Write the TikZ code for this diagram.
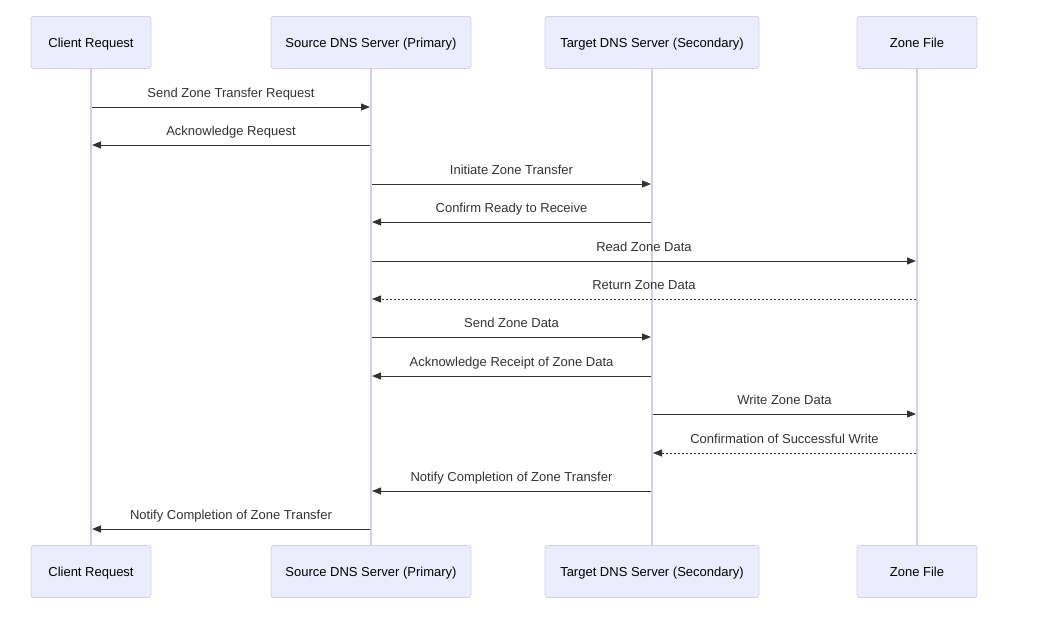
\documentclass[tikz,border=0pt]{standalone}
\usepackage{fontspec}
\setmainfont{Liberation Sans}
\usetikzlibrary{arrows.meta}
\definecolor{actfill}{HTML}{ECECFF}
\definecolor{actdraw}{HTML}{D4CCF2}
\definecolor{lifeline}{HTML}{D4CCF2}
\definecolor{msgcol}{HTML}{333333}
\begin{document}
\begin{tikzpicture}[x=1pt,y=-1pt,
  actor/.style={draw=actdraw,fill=actfill,rounded corners=2.5pt,line width=0.8pt,
    minimum height=52pt,inner sep=0pt,font=\fontsize{13}{15}\selectfont,text=black,
    text height=10pt,text depth=1pt},
  life/.style={draw=lifeline,line width=1.2pt},
  msg/.style={draw=msgcol,line width=1pt,-{Triangle[length=9pt,width=7pt]},shorten >=1pt,shorten <=1pt},
  reply/.style={msg,dash pattern=on 2pt off 2pt},
  lbl/.style={font=\fontsize{13}{15}\selectfont,text=msgcol,inner sep=0pt,anchor=base,yshift=10pt}]
\useasboundingbox (0,0) rectangle (1048,624);
% top actors
\node[actor,minimum width=120pt] (a1) at (91,42.5) {Client Request};
\node[actor,minimum width=200pt] (a2) at (371,42.5) {Source DNS Server (Primary)};
\node[actor,minimum width=214pt] (a3) at (652,42.5) {Target DNS Server (Secondary)};
\node[actor,minimum width=120pt] (a4) at (917,42.5) {Zone File};
% bottom actors
\node[actor,minimum width=120pt] (b1) at (91,571.5) {Client Request};
\node[actor,minimum width=200pt] (b2) at (371,571.5) {Source DNS Server (Primary)};
\node[actor,minimum width=214pt] (b3) at (652,571.5) {Target DNS Server (Secondary)};
\node[actor,minimum width=120pt] (b4) at (917,571.5) {Zone File};
% lifelines
\foreach \i in {1,2,3,4} {\draw[life] (a\i.south) -- (b\i.north);}
% messages
\newcommand{\seqmsg}[5]{%
  \draw[#1] (#2 |- 0,#4) -- node[lbl] {#5} (#3 |- 0,#4);}
\seqmsg{msg}{a1}{a2}{107}{Send Zone Transfer Request}
\seqmsg{msg}{a2}{a1}{145}{Acknowledge Request}
\seqmsg{msg}{a2}{a3}{184}{Initiate Zone Transfer}
\seqmsg{msg}{a3}{a2}{222}{Confirm Ready to Receive}
\seqmsg{msg}{a2}{a4}{261}{Read Zone Data}
\seqmsg{reply}{a4}{a2}{299}{Return Zone Data}
\seqmsg{msg}{a2}{a3}{337}{Send Zone Data}
\seqmsg{msg}{a3}{a2}{376}{Acknowledge Receipt of Zone Data}
\seqmsg{msg}{a3}{a4}{414}{Write Zone Data}
\seqmsg{reply}{a4}{a3}{453}{Confirmation of Successful Write}
\seqmsg{msg}{a3}{a2}{491}{Notify Completion of Zone Transfer}
\seqmsg{msg}{a2}{a1}{529}{Notify Completion of Zone Transfer}
\end{tikzpicture}
\end{document}
